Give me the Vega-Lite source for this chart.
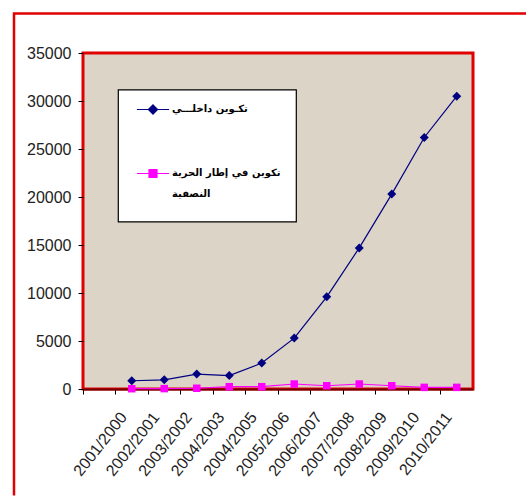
{
  "$schema": "https://vega.github.io/schema/vega-lite/v6.json",
  "width": 390,
  "height": 336,
  "padding": {"left": 12, "top": 12, "right": 0, "bottom": 0},
  "background": "white",
  "config": {
    "view": {"fill": "#dbd4c7", "stroke": "#e00000", "strokeWidth": 3},
    "font": "Liberation Sans"
  },
  "data": {
    "values": [
      {"period": "2001/2000", "series": "تكـوين داخلـــي", "value": 860},
      {"period": "2002/2001", "series": "تكـوين داخلـــي", "value": 960},
      {"period": "2003/2002", "series": "تكـوين داخلـــي", "value": 1550},
      {"period": "2004/2003", "series": "تكـوين داخلـــي", "value": 1400},
      {"period": "2004/2005", "series": "تكـوين داخلـــي", "value": 2700},
      {"period": "2005/2006", "series": "تكـوين داخلـــي", "value": 5300},
      {"period": "2006/2007", "series": "تكـوين داخلـــي", "value": 9600},
      {"period": "2007/2008", "series": "تكـوين داخلـــي", "value": 14700},
      {"period": "2008/2009", "series": "تكـوين داخلـــي", "value": 20300},
      {"period": "2009/2010", "series": "تكـوين داخلـــي", "value": 26200},
      {"period": "2010/2011", "series": "تكـوين داخلـــي", "value": 30500},
      {"period": "2001/2000", "series": "تكوين في إطار الحرية النصفية", "value": 30},
      {"period": "2002/2001", "series": "تكوين في إطار الحرية النصفية", "value": 40},
      {"period": "2003/2002", "series": "تكوين في إطار الحرية النصفية", "value": 80},
      {"period": "2004/2003", "series": "تكوين في إطار الحرية النصفية", "value": 240},
      {"period": "2004/2005", "series": "تكوين في إطار الحرية النصفية", "value": 240},
      {"period": "2005/2006", "series": "تكوين في إطار الحرية النصفية", "value": 520},
      {"period": "2006/2007", "series": "تكوين في إطار الحرية النصفية", "value": 340},
      {"period": "2007/2008", "series": "تكوين في إطار الحرية النصفية", "value": 520},
      {"period": "2008/2009", "series": "تكوين في إطار الحرية النصفية", "value": 340},
      {"period": "2009/2010", "series": "تكوين في إطار الحرية النصفية", "value": 170},
      {"period": "2010/2011", "series": "تكوين في إطار الحرية النصفية", "value": 170}
    ]
  },
  "encoding": {
    "x": {
      "field": "period",
      "type": "nominal",
      "sort": null,
      "scale": {
        "type": "band",
        "domain": ["", "2001/2000", "2002/2001", "2003/2002", "2004/2003", "2004/2005", "2005/2006", "2006/2007", "2007/2008", "2008/2009", "2009/2010", "2010/2011"],
        "paddingInner": 0,
        "paddingOuter": 0
      },
      "axis": {
        "title": null,
        "bandPosition": 0,
        "labelOffset": -8,
        "labelAngle": -52,
        "labelAlign": "right",
        "labelBaseline": "middle",
        "labelPadding": 20,
        "labelFont": "Liberation Sans",
        "labelFontSize": 16,
        "labelColor": "#222222",
        "tickColor": "#000000",
        "tickSize": 5,
        "domainColor": "#700000",
        "domainWidth": 2,
        "grid": false
      }
    },
    "y": {
      "field": "value",
      "type": "quantitative",
      "scale": {"domain": [0, 35000], "nice": false},
      "axis": {
        "title": null,
        "tickCount": 7,
        "format": "d",
        "labelFont": "Liberation Sans",
        "labelFontSize": 16,
        "labelColor": "#222222",
        "labelPadding": 7,
        "tickColor": "#000000",
        "tickSize": 5,
        "domain": false,
        "grid": false
      }
    },
    "color": {
      "field": "series",
      "type": "nominal",
      "scale": {
        "domain": ["تكـوين داخلـــي", "تكوين في إطار الحرية النصفية"],
        "range": ["#000080", "#ff00ff"]
      },
      "legend": {
        "title": " ",
        "titleOrient": "bottom",
        "titleFontSize": 11,
        "titlePadding": 0,
        "orient": "none",
        "legendX": 35,
        "legendY": 36.5,
        "padding": 12,
        "fillColor": "white",
        "strokeColor": "#000000",
        "symbolSize": 196,
        "symbolOffset": 15,
        "symbolStrokeWidth": 1.2,
        "symbolType": "M-2.3,0L2.3,0",
        "labelFont": "DejaVu Sans",
        "labelFontWeight": "bold",
        "labelFontSize": 10,
        "labelColor": "#000000",
        "labelOffset": 11,
        "labelLimit": 300,
        "labelBaseline": "top",
        "rowPadding": 48,
        "labelExpr": "indexof(datum.label, 'النصفية') >= 0 ? ['تكوين في إطار  الحرية', 'النصفية'] : datum.label",
        "encode": {
          "symbols": {
            "update": {
              "shape": {"signal": "indexof(datum.value, 'النصفية') >= 0 ? 'M-2.3,0L2.3,0M-0.57,-0.57L0.57,-0.57L0.57,0.57L-0.57,0.57Z' : 'M-2.3,0L2.3,0M0,-0.66L0.66,0L0,0.66L-0.66,0Z'"},
              "fill": {"scale": "color", "field": "value"},
              "stroke": {"scale": "color", "field": "value"},
              "opacity": {"value": 1}
            }
          },
          "labels": {
            "update": {"dy": {"value": -6}, "lineHeight": {"value": 21}}
          },
          "legend": {
            "update": {"strokeWidth": {"value": 1.2}}
          }
        }
      }
    }
  },
  "layer": [
    {
      "mark": {"type": "line", "strokeWidth": 1.2},
      "encoding": {
        "strokeWidth": {
          "datum": "frame",
          "type": "ordinal",
          "scale": {"range": [1.2]},
          "legend": {
            "title": null,
            "orient": "none",
            "legendX": -69,
            "legendY": -39.5,
            "padding": 241,
            "fillColor": "transparent",
            "strokeColor": "#e00000",
            "symbolSize": 0,
            "symbolOpacity": 0,
            "labelOffset": 4,
            "labelExpr": "'MMMMMMMMM'",
            "labelFontSize": 4,
            "labelLimit": 200,
            "labelOpacity": 0,
            "encode": {"legend": {"update": {"strokeWidth": {"value": 2.5}, "strokeDash": {"value": [512, 998, 490, 0]}}}}
          }
        }
      }
    },
    {
      "transform": [{"filter": "datum.series == 'تكـوين داخلـــي'"}],
      "mark": {"type": "point", "filled": true, "opacity": 1, "size": 81, "shape": "diamond"}
    },
    {
      "transform": [{"filter": "datum.series != 'تكـوين داخلـــي'"}],
      "mark": {"type": "point", "filled": true, "opacity": 1, "size": 56, "shape": "square"}
    }
  ]
}
